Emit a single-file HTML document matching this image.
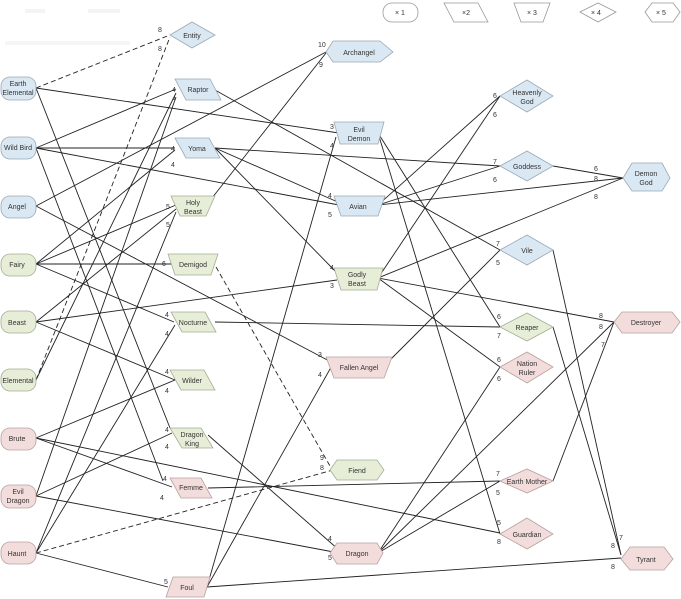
<!DOCTYPE html>
<html><head><meta charset="utf-8"><style>
html,body{margin:0;padding:0;background:#fff;}
svg{display:block;}
text{font-family:"Liberation Sans",sans-serif;font-size:7px;fill:#333;}
.b{fill:#dae8f3;stroke:#9aa9b5;stroke-width:0.8}
.g{fill:#e6eed8;stroke:#a3ad95;stroke-width:0.8}
.p{fill:#f3dcdc;stroke:#b8a0a0;stroke-width:0.8}
.w{fill:#fff;stroke:#999;stroke-width:0.8}
line{stroke:#222;stroke-width:0.9}
.d{stroke-dasharray:5,3}
.l{font-size:7.5px;fill:#222}
</style></head><body>
<svg width="681" height="599" viewBox="0 0 681 599">
<!-- faint header text -->
<rect x="25" y="9" width="20" height="4" fill="#f4f4f4"/><rect x="88" y="9" width="32" height="4" fill="#f4f4f4"/>
<rect x="5" y="41" width="125" height="4" fill="#f6f6f6"/>

<!-- edges -->
<line class="d" x1="36" y1="88" x2="170" y2="35"/>
<line class="d" x1="36" y1="380" x2="170" y2="37"/>
<line x1="36" y1="88" x2="339" y2="133"/>
<line x1="36" y1="88" x2="170" y2="428"/>
<line x1="36" y1="148" x2="176" y2="89"/>
<line x1="36" y1="148" x2="175" y2="148"/>
<line x1="36" y1="148" x2="339" y2="205"/>
<line x1="36" y1="148" x2="163" y2="481"/>
<line x1="36" y1="206" x2="326" y2="52"/>
<line x1="36" y1="206" x2="333" y2="363"/>
<line x1="36" y1="264" x2="175" y2="150"/>
<line x1="36" y1="264" x2="176" y2="205"/>
<line x1="36" y1="264" x2="175" y2="264"/>
<line x1="36" y1="264" x2="174" y2="322"/>
<line x1="36" y1="322" x2="176" y2="209"/>
<line x1="36" y1="322" x2="337" y2="280"/>
<line x1="36" y1="322" x2="175" y2="380"/>
<line x1="36" y1="380" x2="176" y2="93"/>
<line x1="36" y1="438" x2="175" y2="380"/>
<line x1="36" y1="438" x2="172" y2="487"/>
<line x1="36" y1="438" x2="500" y2="533"/>
<line x1="36" y1="496" x2="176" y2="97"/>
<line x1="36" y1="496" x2="172" y2="433"/>
<line x1="36" y1="496" x2="339" y2="553"/>
<line x1="36" y1="553" x2="175" y2="325"/>
<line class="d" x1="36" y1="553" x2="333" y2="470"/>
<line x1="36" y1="553" x2="168" y2="587"/>
<line x1="36" y1="553" x2="176" y2="212"/>
<line x1="215" y1="90" x2="500" y2="250"/>
<line x1="215" y1="148" x2="500" y2="166"/>
<line x1="215" y1="148" x2="340" y2="203"/>
<line x1="215" y1="148" x2="337" y2="273"/>
<line x1="212" y1="198" x2="326" y2="53"/>
<line class="d" x1="212" y1="260" x2="330" y2="466"/>
<line x1="215" y1="322" x2="500" y2="327"/>
<line x1="208" y1="435" x2="339" y2="550"/>
<line x1="208" y1="488" x2="500" y2="481"/>
<line x1="207" y1="587" x2="334" y2="362"/>
<line x1="207" y1="587" x2="621" y2="558"/>
<line x1="207" y1="587" x2="336" y2="137"/>
<line x1="378" y1="133" x2="500" y2="327"/>
<line x1="378" y1="133" x2="500" y2="534"/>
<line x1="378" y1="205" x2="500" y2="96"/>
<line x1="378" y1="205" x2="500" y2="166"/>
<line x1="378" y1="205" x2="623" y2="178"/>
<line x1="378" y1="278" x2="500" y2="96"/>
<line x1="378" y1="278" x2="623" y2="178"/>
<line x1="378" y1="278" x2="614" y2="322"/>
<line x1="378" y1="278" x2="500" y2="367"/>
<line x1="383" y1="367" x2="500" y2="250"/>
<line x1="378" y1="553" x2="500" y2="367"/>
<line x1="378" y1="553" x2="614" y2="322"/>
<line x1="378" y1="553" x2="500" y2="481"/>
<line x1="553" y1="166" x2="623" y2="178"/>
<line x1="553" y1="250" x2="621" y2="555"/>
<line x1="553" y1="327" x2="621" y2="555"/>
<line x1="553" y1="481" x2="614" y2="322"/>

<!-- legend -->
<rect class="w" x="383" y="3" width="35" height="19" rx="9"/><text x="395" y="15">× 1</text>
<polygon class="w" points="444,3 478,3 488,22 454,22"/><text x="462" y="15">×2</text>
<polygon class="w" points="514,3 550,3 543,22 521,22"/><text x="527" y="15">× 3</text>
<polygon class="w" points="580,12 598,3 616,12 598,22"/><text x="591" y="15">× 4</text>
<polygon class="w" points="645,12 652,3 673,3 680,12 673,22 652,22"/><text x="656" y="15">× 5</text>

<!-- column 1 -->
<rect class="b" x="1" y="77" width="35" height="23" rx="9"/><text x="18" y="86" text-anchor="middle">Earth</text><text x="18" y="95" text-anchor="middle">Elemental</text>
<rect class="b" x="1" y="137" width="35" height="22" rx="9"/><text x="18" y="150" text-anchor="middle">Wild Bird</text>
<rect class="b" x="1" y="196" width="35" height="22" rx="9"/><text x="17" y="209" text-anchor="middle">Angel</text>
<rect class="g" x="1" y="254" width="35" height="22" rx="9"/><text x="17" y="267" text-anchor="middle">Fairy</text>
<rect class="g" x="1" y="311" width="35" height="22" rx="9"/><text x="17" y="325" text-anchor="middle">Beast</text>
<rect class="g" x="1" y="369" width="35" height="22" rx="9"/><text x="18" y="383" text-anchor="middle">Elemental</text>
<rect class="p" x="1" y="428" width="35" height="22" rx="9"/><text x="17" y="441" text-anchor="middle">Brute</text>
<rect class="p" x="1" y="485" width="35" height="23" rx="9"/><text x="18" y="494" text-anchor="middle">Evil</text><text x="18" y="503" text-anchor="middle">Dragon</text>
<rect class="p" x="1" y="542" width="35" height="22" rx="9"/><text x="17" y="556" text-anchor="middle">Haunt</text>

<!-- column 2 -->
<polygon class="b" points="170,35 192,22 215,35 192,48"/><text x="192" y="38" text-anchor="middle">Entity</text>
<polygon class="b" points="175,79 210,79 221,100 186,100"/><text x="198" y="92" text-anchor="middle">Raptor</text>
<polygon class="b" points="175,138 209,138 220,158 186,158"/><text x="197" y="151" text-anchor="middle">Yoma</text>
<polygon class="g" points="171,196 215,196 206,216 180,216"/><text x="193" y="205" text-anchor="middle">Holy</text><text x="193" y="214" text-anchor="middle">Beast</text>
<polygon class="g" points="168,254 218,254 211,275 175,275"/><text x="193" y="267" text-anchor="middle">Demigod</text>
<polygon class="g" points="171,312 205,312 216,332 182,332"/><text x="193" y="325" text-anchor="middle">Nocturne</text>
<polygon class="g" points="170,370 204,370 215,390 181,390"/><text x="192" y="383" text-anchor="middle">Wilder</text>
<polygon class="g" points="170,428 201,428 213,448 182,448"/><text x="192" y="437" text-anchor="middle">Dragon</text><text x="192" y="446" text-anchor="middle">King</text>
<polygon class="p" points="170,478 201,478 212,498 181,498"/><text x="191" y="490" text-anchor="middle">Femme</text>
<polygon class="p" points="173,577 210,577 204,597 166,597"/><text x="187" y="590" text-anchor="middle">Foul</text>

<!-- column 3 -->
<polygon class="b" points="326,52 333,41 380,41 393,52 380,62 333,62"/><text x="359" y="55" text-anchor="middle">Archangel</text>
<polygon class="b" points="334,122 384,122 378,144 340,144"/><text x="359" y="132" text-anchor="middle">Evil</text><text x="359" y="141" text-anchor="middle">Demon</text>
<polygon class="b" points="334,196 385,196 378,216 341,216"/><text x="358" y="209" text-anchor="middle">Avian</text>
<polygon class="g" points="334,268 383,268 377,290 341,290"/><text x="357" y="277" text-anchor="middle">Godly</text><text x="357" y="286" text-anchor="middle">Beast</text>
<polygon class="p" points="326,357 392,357 384,378 334,378"/><text x="359" y="370" text-anchor="middle">Fallen Angel</text>
<polygon class="g" points="330,470 337,460 377,460 384,470 377,480 337,480"/><text x="357" y="473" text-anchor="middle">Fiend</text>
<polygon class="p" points="330,553 337,543 377,543 383,553 377,564 337,564"/><text x="357" y="556" text-anchor="middle">Dragon</text>

<!-- column 4 -->
<polygon class="b" points="500,96 527,80 553,96 527,112"/><text x="527" y="95" text-anchor="middle">Heavenly</text><text x="527" y="104" text-anchor="middle">God</text>
<polygon class="b" points="500,166 527,151 553,166 527,181"/><text x="527" y="169" text-anchor="middle">Goddess</text>
<polygon class="b" points="500,250 527,235 553,250 527,265"/><text x="527" y="253" text-anchor="middle">Vile</text>
<polygon class="g" points="500,327 527,313 553,327 527,341"/><text x="527" y="330" text-anchor="middle">Reaper</text>
<polygon class="p" points="500,367 527,352 553,367 527,383"/><text x="527" y="366" text-anchor="middle">Nation</text><text x="527" y="375" text-anchor="middle">Ruler</text>
<polygon class="p" points="500,481 527,469 553,481 527,493"/><text x="527" y="484" text-anchor="middle">Earth Mother</text>
<polygon class="p" points="500,534 527,518 553,534 527,549"/><text x="527" y="537" text-anchor="middle">Guardian</text>

<!-- column 5 -->
<polygon class="b" points="623,178 632,163 662,163 670,178 662,191 632,191"/><text x="646" y="176" text-anchor="middle">Demon</text><text x="646" y="185" text-anchor="middle">God</text>
<polygon class="p" points="614,322 622,312 672,312 680,322 672,333 622,333"/><text x="646" y="325" text-anchor="middle">Destroyer</text>
<polygon class="p" points="621,559 630,547 664,547 673,559 664,570 630,570"/><text x="646" y="562" text-anchor="middle">Tyrant</text>

<!-- labels -->
<g class="l">
<text x="158" y="32">8</text><text x="158" y="51">8</text>
<text x="172" y="92">4</text><text x="172" y="101">4</text>
<text x="171" y="151">4</text><text x="171" y="167">4</text>
<text x="166" y="209">5</text><text x="166" y="227">5</text>
<text x="162" y="266">6</text>
<text x="165" y="317">4</text><text x="165" y="336">4</text>
<text x="165" y="374">4</text><text x="165" y="393">4</text>
<text x="165" y="432">4</text><text x="165" y="449">4</text>
<text x="163" y="481">4</text><text x="160" y="500">4</text>
<text x="164" y="584">5</text>
<text x="318" y="47">10</text><text x="319" y="67">9</text>
<text x="330" y="129">3</text><text x="330" y="148">4</text>
<text x="328" y="198">4</text><text x="328" y="217">5</text>
<text x="330" y="270">4</text><text x="330" y="288">3</text>
<text x="318" y="357">3</text><text x="318" y="377">4</text>
<text x="320" y="460">9</text><text x="320" y="470">8</text>
<text x="328" y="541">4</text><text x="328" y="560">5</text>
<text x="493" y="98">6</text><text x="493" y="117">6</text>
<text x="493" y="164">7</text><text x="493" y="182">6</text>
<text x="496" y="246">7</text><text x="496" y="265">5</text>
<text x="497" y="319">6</text><text x="497" y="338">7</text>
<text x="497" y="362">6</text><text x="497" y="381">6</text>
<text x="496" y="476">7</text><text x="496" y="495">5</text>
<text x="497" y="525">5</text><text x="497" y="544">8</text>
<text x="594" y="171">6</text><text x="594" y="181">8</text><text x="594" y="199">8</text>
<text x="599" y="318">8</text><text x="599" y="329">8</text><text x="601" y="347">7</text>
<text x="619" y="540">7</text><text x="611" y="548">8</text><text x="611" y="569">8</text>
</g>
</svg>
</body></html>
